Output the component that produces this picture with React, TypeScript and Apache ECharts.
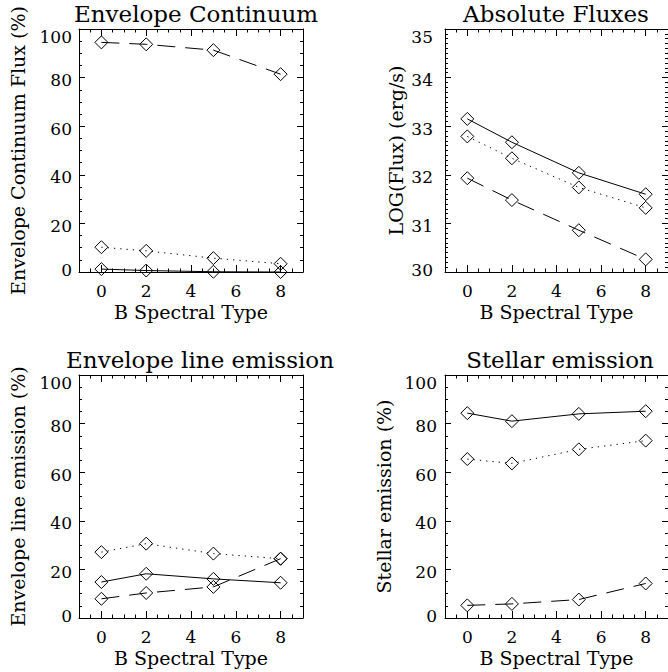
import React, { useEffect, useRef } from "react";
import * as echarts from "echarts";

// ---- data ----
const spectralTypes = [0, 2, 5, 8];
const xTickValues = [0, 2, 4, 6, 8];
const percentTicks = [0, 20, 40, 60, 80, 100];
const fluxTicks = [30, 31, 32, 33, 34, 35];

const contSolid = [1.2, 0.6, 0.1, 0.0];
const contDotted = [10.2, 8.7, 5.7, 3.4];
const contDashed = [94.5, 93.7, 91.3, 81.4];

const fluxSolid = [33.15, 32.67, 32.04, 31.6];
const fluxDotted = [32.79, 32.34, 31.74, 31.32];
const fluxDashed = [31.93, 31.48, 30.86, 30.26];

const lineSolid = [14.8, 18.2, 16.1, 14.5];
const lineDotted = [27.1, 30.6, 26.5, 24.4];
const lineDashed = [7.9, 10.3, 12.8, 24.4];

const stelSolid = [84.3, 81.0, 84.0, 85.1];
const stelDotted = [65.4, 63.6, 69.4, 73.0];
const stelDashed = [5.2, 5.8, 7.6, 14.2];

const titles = ["Envelope Continuum", "Absolute Fluxes", "Envelope line emission", "Stellar emission"];
const yNames = ["Envelope Continuum Flux (%)", "LOG(Flux) (erg/s)", "Envelope line emission (%)", "Stellar emission (%)"];
const xName = "B Spectral Type";

const FONT = "'DejaVu Serif', serif";
const BLACK = "#000";
const DOTTED = [1.3, 5];
const DASHED = [18, 10];

function buildOption() {
  const panels = [
    { left: 79, top: 29, titleX: 196, ticks: percentTicks, minorSplit: 4, nameGap: 51.5, labelMargin: 7, sets: [contSolid, contDotted, contDashed] },
    { left: 445, top: 29, titleX: 556, ticks: fluxTicks, minorSplit: 10, nameGap: 39.5, labelMargin: 12, sets: [fluxSolid, fluxDotted, fluxDashed] },
    { left: 79, top: 375, titleX: 200, ticks: percentTicks, minorSplit: 4, nameGap: 51.5, labelMargin: 7, sets: [lineSolid, lineDotted, lineDashed] },
    { left: 445, top: 375, titleX: 560, ticks: percentTicks, minorSplit: 4, nameGap: 51.5, labelMargin: 8, sets: [stelSolid, stelDotted, stelDashed] },
  ];
  const W = 224;
  const H = 243;
  const grids: any[] = [];
  const xAxes: any[] = [];
  const yAxes: any[] = [];
  const series: any[] = [];
  const graphics: any[] = [];
  const types: any[] = ["solid", DOTTED, DASHED];

  panels.forEach((p, i) => {
    const gA = grids.length;
    grids.push({ left: p.left, top: p.top, width: W, height: H, containLabel: false });
    const gB = grids.length;
    grids.push({ left: p.left, top: p.top, width: W, height: H, containLabel: false });
    const yMin = p.ticks[0];
    const yMax = p.ticks[p.ticks.length - 1];
    const yInt = p.ticks[1] - p.ticks[0];

    const xMainBottom = xAxes.length;
    xAxes.push({
      type: "value", gridIndex: gA, position: "bottom", min: -1, max: 9,
      axisLine: { show: true, onZero: false, lineStyle: { color: BLACK, width: 1 } },
      axisTick: { show: true, inside: true, length: 7, customValues: xTickValues, lineStyle: { color: BLACK, width: 1 } },
      axisLabel: { show: true, customValues: xTickValues, margin: 10, color: BLACK, fontSize: 17, fontFamily: FONT },
      splitLine: { show: false },
      name: xName, nameLocation: "middle", nameGap: 30,
      nameTextStyle: { color: BLACK, fontSize: 19, fontFamily: FONT },
    });
    xAxes.push({
      type: "value", gridIndex: gA, position: "top", min: -1, max: 9,
      axisLine: { show: true, onZero: false, lineStyle: { color: BLACK, width: 1 } },
      axisTick: { show: true, inside: true, length: 7, customValues: xTickValues, lineStyle: { color: BLACK, width: 1 } },
      axisLabel: { show: false },
      splitLine: { show: false },
    });
    xAxes.push({
      type: "value", gridIndex: gB, position: "bottom", min: -1, max: 9, interval: 0.5,
      axisLine: { show: false, onZero: false },
      axisTick: { show: true, inside: true, length: 3.5, lineStyle: { color: BLACK, width: 1 } },
      axisLabel: { show: false },
      splitLine: { show: false },
    });
    xAxes.push({
      type: "value", gridIndex: gB, position: "top", min: -1, max: 9, interval: 0.5,
      axisLine: { show: false, onZero: false },
      axisTick: { show: true, inside: true, length: 3.5, lineStyle: { color: BLACK, width: 1 } },
      axisLabel: { show: false },
      splitLine: { show: false },
    });

    const yMainLeft = yAxes.length;
    yAxes.push({
      type: "value", gridIndex: gA, position: "left", min: yMin, max: yMax, interval: yInt,
      axisLine: { show: true, onZero: false, lineStyle: { color: BLACK, width: 1 } },
      axisTick: { show: true, inside: true, length: 6, lineStyle: { color: BLACK, width: 1 } },
      minorTick: { show: true, splitNumber: p.minorSplit, length: 3, lineStyle: { color: BLACK, width: 1 } },
      axisLabel: {
        show: true, margin: p.labelMargin, color: BLACK, fontSize: 17, fontFamily: FONT,
        formatter: (v: number) => (v === yMax ? `{t|${v}}` : v === yMin ? `{b|${v}}` : `{m|${v}}`),
        rich: {
          t: { fontSize: 17, fontFamily: FONT, color: BLACK, padding: [16, 0, 0, 0] },
          m: { fontSize: 17, fontFamily: FONT, color: BLACK, padding: [5, 0, 0, 0] },
          b: { fontSize: 17, fontFamily: FONT, color: BLACK, padding: [0, 0, 5, 0] },
        },
      },
      splitLine: { show: false },
      minorSplitLine: { show: false },
      name: yNames[i], nameLocation: "middle", nameGap: p.nameGap,
      nameTextStyle: { color: BLACK, fontSize: 19, fontFamily: FONT },
    });
    yAxes.push({
      type: "value", gridIndex: gA, position: "right", min: yMin, max: yMax, interval: yInt,
      axisLine: { show: true, onZero: false, lineStyle: { color: BLACK, width: 1 } },
      axisTick: { show: true, inside: true, length: 6, lineStyle: { color: BLACK, width: 1 } },
      minorTick: { show: true, splitNumber: p.minorSplit, length: 3, lineStyle: { color: BLACK, width: 1 } },
      axisLabel: { show: false },
      splitLine: { show: false },
      minorSplitLine: { show: false },
    });
    yAxes.push({ type: "value", gridIndex: gB, min: yMin, max: yMax, show: false });

    p.sets.forEach((vals, k) => {
      series.push({
        type: "line",
        xAxisIndex: xMainBottom,
        yAxisIndex: yMainLeft,
        data: spectralTypes.map((x, j) => [x, vals[j]]),
        symbol: "diamond",
        symbolSize: 13,
        showSymbol: true,
        showAllSymbol: true,
        clip: true,
        silent: true,
        itemStyle: { color: "rgba(255,255,255,0)", borderColor: BLACK, borderWidth: 1 },
        lineStyle: { color: BLACK, width: 1, type: types[k] },
        emphasis: { disabled: true },
      });
    });

    graphics.push({
      type: "text",
      x: p.titleX,
      y: p.top - 27,
      style: { text: titles[i], fill: BLACK, fontSize: 23, fontFamily: FONT, align: "center", verticalAlign: "top" },
    });
  });

  return {
    animation: false,
    backgroundColor: "#fff",
    grid: grids,
    xAxis: xAxes,
    yAxis: yAxes,
    series,
    graphic: graphics,
  };
}

export default function App() {
  const ref = useRef<HTMLDivElement>(null);
  useEffect(() => {
    if (!ref.current) return;
    const chart = echarts.init(ref.current, undefined, { renderer: "svg" });
    chart.setOption(buildOption() as any);
    return () => chart.dispose();
  }, []);
  return (
    <div
      ref={ref}
      style={{ position: "absolute", left: 0, top: 0, width: 668, height: 672, background: "#fff" }}
    />
  );
}
